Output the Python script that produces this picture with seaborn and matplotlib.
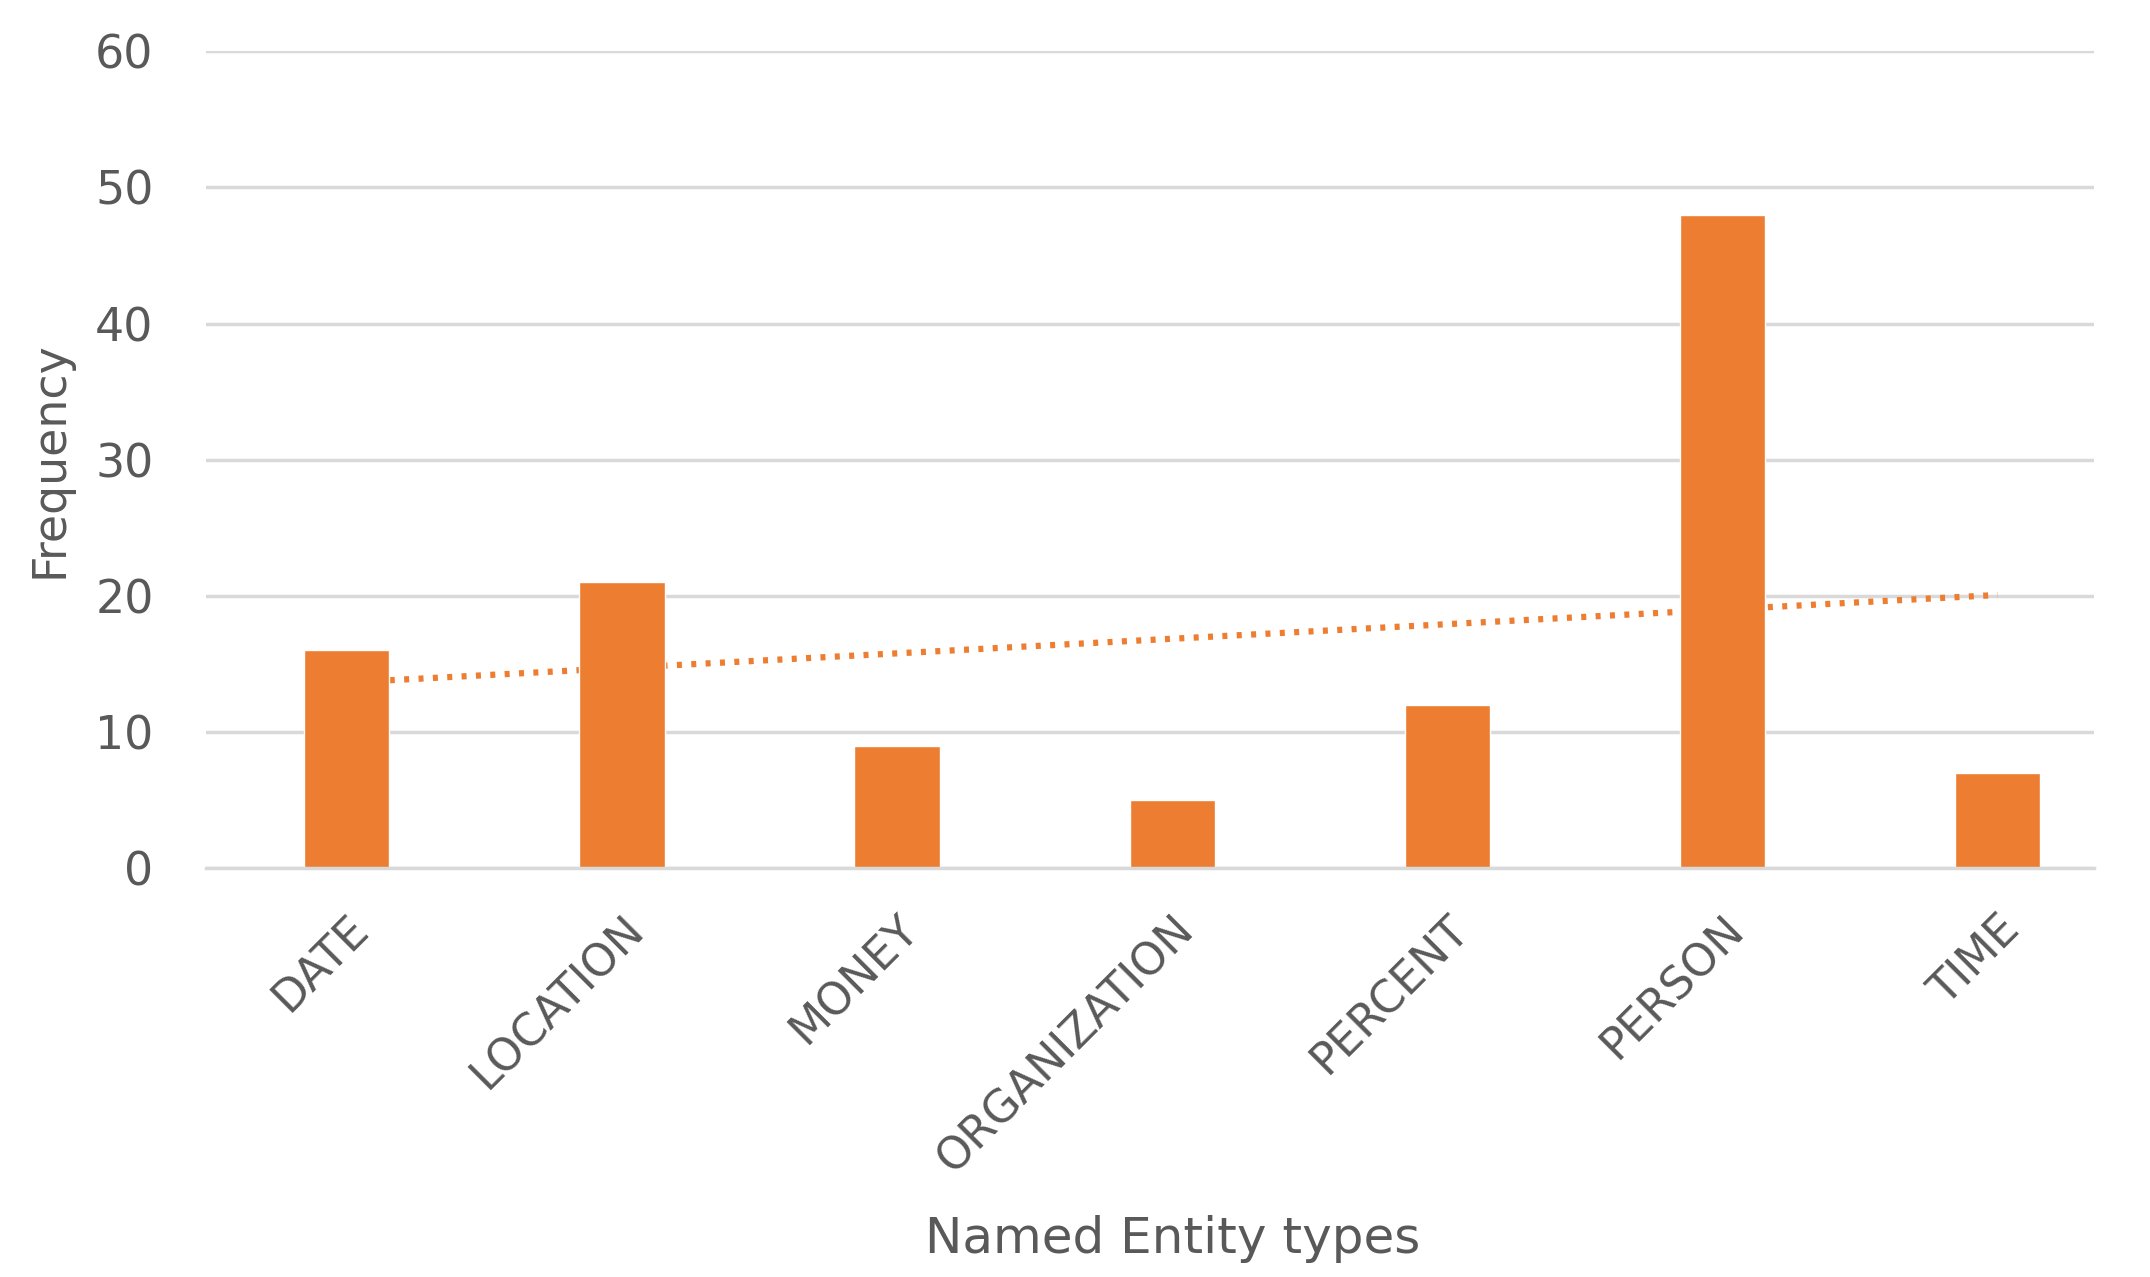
import matplotlib
matplotlib.use("Agg")
import matplotlib.pyplot as plt
import seaborn as sns
import numpy as np
import pandas as pd

# Data
entity_types = ['DATE', 'LOCATION', 'MONEY', 'ORGANIZATION', 'PERCENT', 'PERSON', 'TIME']
frequency = [16, 21, 9, 5, 12, 48, 7]
y_ticks = [0, 10, 20, 30, 40, 50, 60]

bar_color = '#ED7D31'
grid_color = '#D9D9D9'
text_color = '#595959'

sns.set_style("white")
plt.rcParams['font.family'] = ['DejaVu Sans']

df = pd.DataFrame({'type': entity_types, 'freq': frequency})

fig = plt.figure(figsize=(21.5, 12.77), dpi=100)
ax = fig.add_axes([0.096, 0.320, 0.878, 0.640])

sns.barplot(data=df, x='type', y='freq', color=bar_color, saturation=1,
            width=0.31, ax=ax, zorder=2)

# Linear trendline (Excel style), drawn behind the bars
pos = np.arange(len(frequency))
slope, intercept = np.polyfit(pos, frequency, 1)
ax.plot(pos, slope * pos + intercept, color=bar_color, lw=4.5,
        linestyle=(0, (0.8, 1.5)), zorder=1.5)

ax.set_ylim(0, 60)
ax.set_xlim(-0.51, len(entity_types) - 0.65)
ax.set_yticks(y_ticks)
ax.yaxis.grid(True, color=grid_color, lw=2.5, zorder=0)
ax.set_axisbelow(True)
for s in ['top', 'right', 'left']:
    ax.spines[s].set_visible(False)
ax.spines['bottom'].set_color(grid_color)
ax.spines['bottom'].set_linewidth(2.5)

ax.tick_params(axis='both', length=0, colors=text_color)
ax.tick_params(axis='y', labelsize=33, pad=38)
ax.tick_params(axis='x', labelsize=32, pad=28)
plt.setp(ax.get_xticklabels(), rotation=45, ha='right', rotation_mode='anchor')

ax.set_xlabel('Named Entity types', fontsize=36, color=text_color, va='center')
ax.xaxis.set_label_coords(0.512, -0.453)
ax.set_ylabel('Frequency', fontsize=33, color=text_color, va='center')
ax.yaxis.set_label_coords(-0.083, 0.5)

fig.savefig('out.png', dpi=100)
